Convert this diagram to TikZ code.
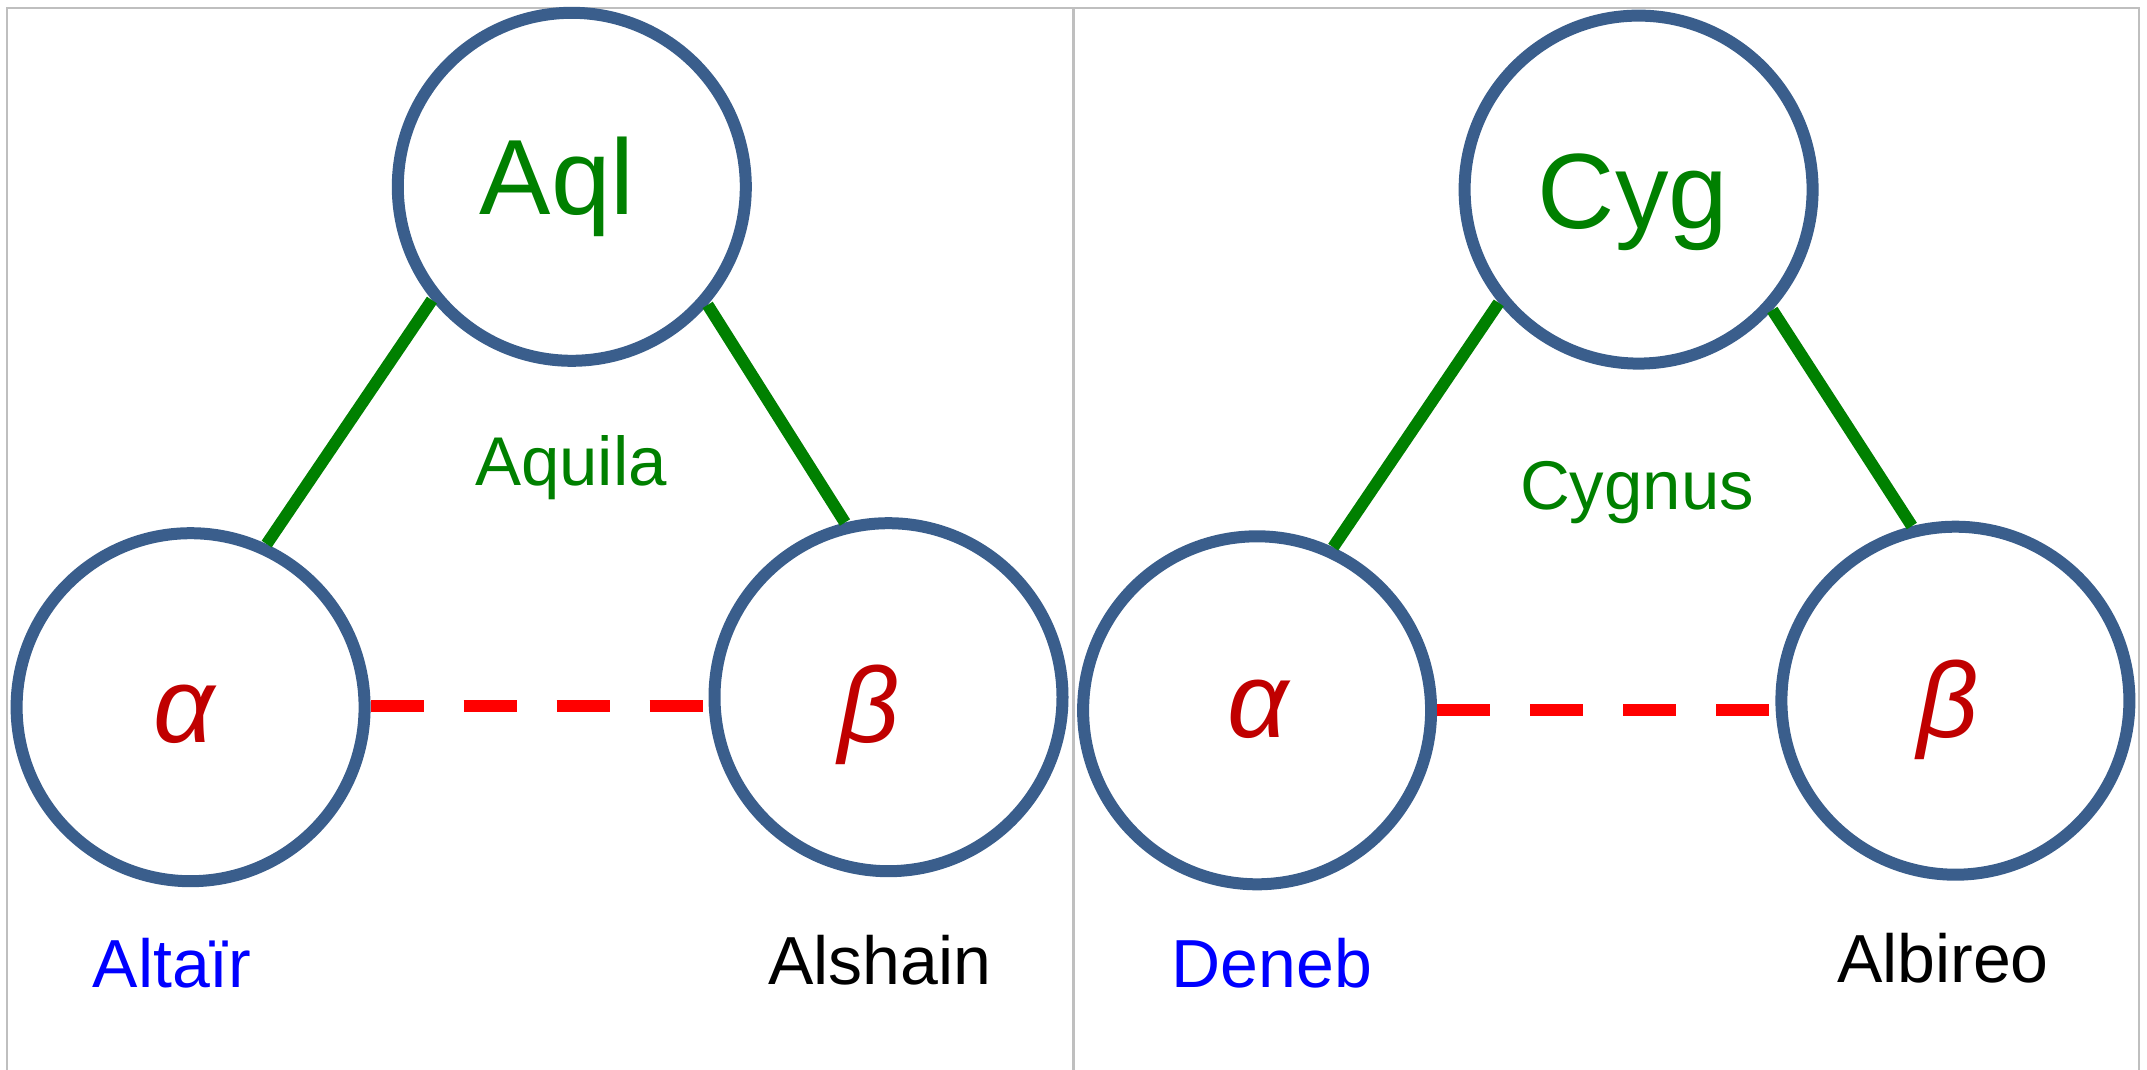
\documentclass[tikz,border=0pt]{standalone}
\usepackage{fontspec}
\setmainfont{Liberation Sans}
\definecolor{ringblue}{HTML}{3A5E8C}
\definecolor{leafgreen}{HTML}{008000}
\definecolor{darkred}{HTML}{C00000}
\definecolor{framegray}{HTML}{BFBFBF}
\tikzset{
  star/.style={circle, draw=ringblue, line width=12pt, minimum size=348pt, inner sep=0pt},
  abbr/.style={anchor=base, text=leafgreen, font=\fontsize{107}{107}\selectfont},
  cname/.style={anchor=base, text=leafgreen, font=\fontsize{69}{69}\selectfont},
  greek/.style={anchor=base, text=darkred, font=\fontsize{107}{107}\selectfont\itshape},
  sname/.style={anchor=base, font=\fontsize{68}{68}\selectfont},
  link/.style={draw=leafgreen, line width=12pt},
  pair/.style={draw=red, line width=12pt, dash pattern=on 53pt off 40pt},
  frame/.style={draw=framegray, line width=2.5pt}
}
\begin{document}
\begin{tikzpicture}[x=1pt, y=-1pt]
\useasboundingbox (0,0) rectangle (2147,1070);
% frames
\draw[frame] (7,1075) -- (7,8) -- (2139,8) -- (2139,1075);
\draw[frame] (1073.5,8) -- (1073.5,1075);

% ---- Aquila panel
\node[star] (aql) at (571.8,186.8) {};
\node[star] (aalpha) at (190.6,707.2) {};
\node[star] (abeta) at (888.5,697.2) {};
\node[abbr] (aqltxt) at (557,214) {Aql};
\node[cname] (aquila) at (571,485) {Aquila};
\node[greek] (aalphatxt) at (184,742) {α};
\node[greek] (abetatxt) at (869,742) {β};
\node[sname, text=blue] (altair) at (172,987) {Altaïr};
\node[sname, text=black] (alshain) at (880,984) {Alshain};
\draw[link] (aalpha.65.5) -- (aql.219);
\draw[link] (aql.319) -- (abeta.104);
\draw[pair] (aalpha.east |- 0,706) -- (abeta.west |- 0,706);

% ---- Cygnus panel
\node[star] (cyg) at (1638.6,189.6) {};
\node[star] (calpha) at (1257.1,710.3) {};
\node[star] (cbeta) at (1955.4,700.7) {};
\node[abbr] (cygtxt) at (1633,228) {Cyg};
\node[cname] (cygnus) at (1637,509) {Cygnus};
\node[greek] (calphatxt) at (1258,737) {α};
\node[greek] (cbetatxt) at (1948,737) {β};
\node[sname, text=blue] (deneb) at (1272,987) {Deneb};
\node[sname, text=black] (albireo) at (1943,982) {Albireo};
\draw[link] (calpha.65.5) -- (cyg.219);
\draw[link] (cyg.318.6) -- (cbeta.104.2);
\draw[pair] (calpha.east |- 0,709.6) -- (cbeta.west |- 0,709.6);
\end{tikzpicture}
\end{document}
